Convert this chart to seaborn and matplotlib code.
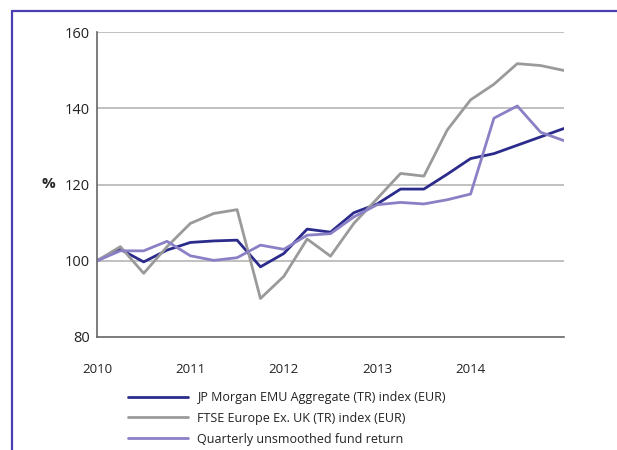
import pandas as pd
import matplotlib.pyplot as plt
import seaborn as sns
import numpy as np
from matplotlib.lines import Line2D

# quarterly index values (2010 = 100)
quarter = list(range(21))
jpm = [100, 103.0, 99.7, 102.8, 104.8, 105.2, 105.4, 98.4, 101.9, 108.3, 107.5,
       112.6, 114.9, 118.8, 118.8, 122.7, 126.8, 128.1, 130.3, 132.5, 134.7]
ftse = [100, 103.7, 96.7, 103.7, 109.8, 112.4, 113.4, 90.1, 95.9, 105.7, 101.2,
        109.8, 116.3, 122.9, 122.2, 134.3, 142.2, 146.3, 151.7, 151.2, 149.9]
fund = [100, 102.6, 102.6, 105.1, 101.3, 100.1, 100.8, 104.1, 103.0, 106.7, 107.1,
        111.5, 114.7, 115.3, 114.9, 116.0, 117.5, 137.4, 140.6, 133.7, 131.5]
series_names = ["JP Morgan EMU Aggregate (TR) index (EUR)",
                "FTSE Europe Ex. UK (TR) index (EUR)",
                "Quarterly unsmoothed fund return"]
year_labels = ["2010", "2011", "2012", "2013", "2014"]
y_ticks = [80, 100, 120, 140, 160]

df = pd.DataFrame({"quarter": quarter, series_names[0]: jpm,
                   series_names[1]: ftse, series_names[2]: fund})
df = df.melt(id_vars="quarter", var_name="series", value_name="value")

sns.set_style("white")
plt.rcParams["font.family"] = ["Open Sans", "DejaVu Sans"]

palette = {series_names[0]: "#2b2b8c",
           series_names[1]: "#9a9a9a",
           series_names[2]: "#8a80c6"}

fig = plt.figure(figsize=(6.17, 4.50), dpi=100)
ax = fig.add_axes([97 / 617, 1 - 337 / 450, (564 - 97) / 617, (337 - 32) / 450])

for y in y_ticks[1:]:
    ax.axhline(y, color="#b5b5b5", lw=1.2, zorder=0)

sns.lineplot(data=df, x="quarter", y="value", hue="series", palette=palette,
             hue_order=series_names, lw=2, ax=ax, legend=False)

ax.set_xlim(0, 20)
ax.set_ylim(80, 160)
ax.set_yticks(y_ticks)
ax.set_xticks(quarter)
ax.set_xticklabels([year_labels[q // 4] if q % 4 == 0 and q // 4 < len(year_labels) else ""
                    for q in quarter])
ax.tick_params(axis="x", direction="out", length=8, width=1.2, color="#555555",
               pad=11, labelsize=9.5, labelcolor="#222222")
ax.tick_params(axis="y", length=0, pad=5, labelsize=10.5, labelcolor="#222222")
for s in ["top", "right"]:
    ax.spines[s].set_visible(False)
for s in ["left", "bottom"]:
    ax.spines[s].set_color("#666666")
    ax.spines[s].set_linewidth(1.2)
ax.set_xlabel("")
ax.set_ylabel("%", rotation=0, fontsize=11, fontweight="bold", va="center", ha="center")
ax.yaxis.set_label_coords(-0.105, 0.5)

handles = [Line2D([], [], color=palette[n], lw=2) for n in series_names]
fig.legend(handles, series_names, loc="upper left", bbox_to_anchor=(123 / 617, 1 - 386 / 450),
           frameon=False, fontsize=9, handlelength=4.8, handletextpad=0.7,
           labelspacing=0.62, borderaxespad=0, labelcolor="#222222")

# outer frame
fig.add_artist(Line2D([12 / 617, 12 / 617], [1 - 11 / 450, 0], transform=fig.transFigure,
                      color="#4a3fb0", lw=1.6))
fig.add_artist(Line2D([12 / 617, 1], [1 - 11 / 450, 1 - 11 / 450], transform=fig.transFigure,
                      color="#4a3fb0", lw=1.6))

fig.savefig("out.png", dpi=100)
